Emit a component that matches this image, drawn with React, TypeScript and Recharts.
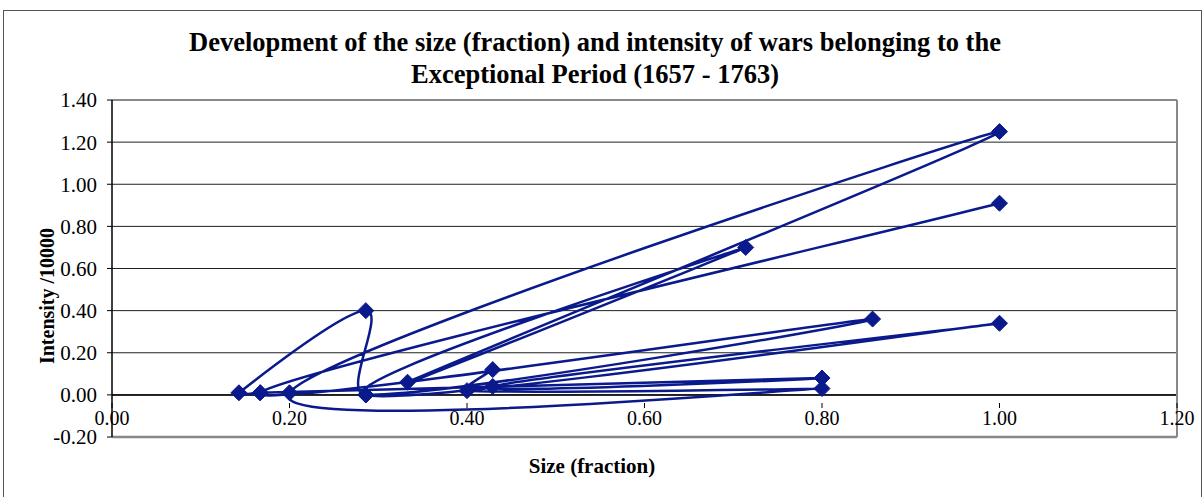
import React from 'react'
import { LineChart, Line, XAxis, YAxis, CartesianGrid, ReferenceLine } from 'recharts'

// points in the order they are joined (size fraction, intensity / 10000)
const sizes = [1.0, 0.167, 0.857, 0.286, 0.286, 0.143, 0.167, 0.8, 0.429, 1.0, 0.286, 0.714, 0.333, 1.0, 0.2, 0.8, 0.4, 0.429]
const intensities = [0.91, 0.01, 0.36, 0.0, 0.4, 0.01, 0.01, 0.08, 0.04, 0.34, 0.0, 0.7, 0.06, 1.25, 0.01, 0.03, 0.02, 0.12]
const xTicks = [0, 0.2, 0.4, 0.6, 0.8, 1.0, 1.2]
const yTicks = [-0.2, 0, 0.2, 0.4, 0.6, 0.8, 1.0, 1.2, 1.4]

const data = sizes.map((x, i) => ({ x, y: intensities[i] }))

const FONT = "'Liberation Serif', 'Times New Roman', serif"
const NAVY = '#0a1a8c'

// smoothed line like the spreadsheet one: catmull-rom tangents, control arm capped
const smooth = (ctx: any) => {
  let pts: number[][] = []
  const d = (a: number[], b: number[]) => Math.hypot(b[0] - a[0], b[1] - a[1])
  const arm = (a: number[], b: number[], seg: number) => {
    let dx = (b[0] - a[0]) / 6, dy = (b[1] - a[1]) / 6
    const len = Math.hypot(dx, dy), cap = seg * 0.3
    if (len > cap && len > 0) { dx *= cap / len; dy *= cap / len }
    return [dx, dy]
  }
  return {
    areaStart() {}, areaEnd() {},
    lineStart() { pts = [] },
    point(x: number, y: number) { pts.push([+x, +y]) },
    lineEnd() {
      const n = pts.length
      if (!n) return
      ctx.moveTo(pts[0][0], pts[0][1])
      for (let i = 0; i < n - 1; i++) {
        const p0 = pts[i - 1] || pts[i], p1 = pts[i], p2 = pts[i + 1], p3 = pts[i + 2] || p2
        const seg = d(p1, p2)
        const a1 = arm(p0, p2, seg), a2 = arm(p1, p3, seg)
        ctx.bezierCurveTo(p1[0] + a1[0], p1[1] + a1[1], p2[0] - a2[0], p2[1] - a2[1], p2[0], p2[1])
      }
    },
  }
}

function Diamond({ cx, cy, index }: any) {
  if (cx == null || cy == null) return null
  const r = 8
  return <path key={index} d={`M${cx},${cy - r}L${cx + r},${cy}L${cx},${cy + r}L${cx - r},${cy}Z`} fill={NAVY} stroke={NAVY} />
}

function XTick({ x, y, payload }: any) {
  // axis crosses at 0, which sits 42px above the bottom of the plot
  return (
    <g>
      <line x1={x} x2={x} y1={y - 42} y2={y - 37} stroke="#000" />
      <text x={x} y={y - 20} textAnchor="middle" fontFamily={FONT} fontSize={20} fill="#000">{payload.value.toFixed(2)}</text>
    </g>
  )
}

export default function App() {
  return (
    <div style={{ position: 'absolute', left: 0, top: 0, width: 1204, height: 497, background: '#fff', overflow: 'hidden', fontFamily: FONT }}>
      <div style={{ position: 'absolute', left: 3, top: 10, width: 1197, height: 520, border: '1.5px solid #555' }} />
      <div style={{ position: 'absolute', left: 0, width: 1190, top: 26, textAlign: 'center', fontWeight: 700, fontSize: 26.5, lineHeight: '32px', color: '#000' }}>
        Development of the size (fraction) and intensity of wars belonging to the<br />Exceptional Period (1657 - 1763)
      </div>
      <div style={{ position: 'absolute', left: 47, top: 296, transform: 'translate(-50%,-50%) rotate(-90deg)', whiteSpace: 'nowrap', fontWeight: 700, fontSize: 20 }}>Intensity /10000</div>
      <div style={{ position: 'absolute', left: 592, top: 466, transform: 'translate(-50%,-50%)', whiteSpace: 'nowrap', fontWeight: 700, fontSize: 21 }}>Size (fraction)</div>
      <div style={{ position: 'absolute', left: 0, top: 0 }}>
        <LineChart width={1204} height={497} data={data} margin={{ top: 100, right: 27, bottom: 0, left: 60 }}>
          <CartesianGrid vertical={false} horizontal stroke="#222" strokeWidth={1} />
          <XAxis type="number" dataKey="x" domain={[0, 1.2]} ticks={xTicks} height={60} axisLine={false} tickLine={false} tick={<XTick />} interval={0} />
          <YAxis type="number" domain={[-0.2, 1.4]} ticks={yTicks} width={52} axisLine={{ stroke: '#000', strokeWidth: 1.5 }} tickLine={{ stroke: '#000' }} tickSize={5} tickMargin={10}
            tick={{ fontFamily: FONT, fontSize: 21, fill: '#000' }} tickFormatter={(v: number) => v.toFixed(2)} interval={0} />
          <ReferenceLine y={0} stroke="#000" strokeWidth={1.5} />
          <ReferenceLine y={1.4} stroke="#888" strokeWidth={2} />
          <ReferenceLine y={-0.2} stroke="#888" strokeWidth={2.5} />
          <ReferenceLine x={1.2} stroke="#888" strokeWidth={2} />
          <Line type={smooth as any} dataKey="y" stroke={NAVY} strokeWidth={2.5} dot={<Diamond />} activeDot={false} isAnimationActive={false} />
        </LineChart>
      </div>
    </div>
  )
}
